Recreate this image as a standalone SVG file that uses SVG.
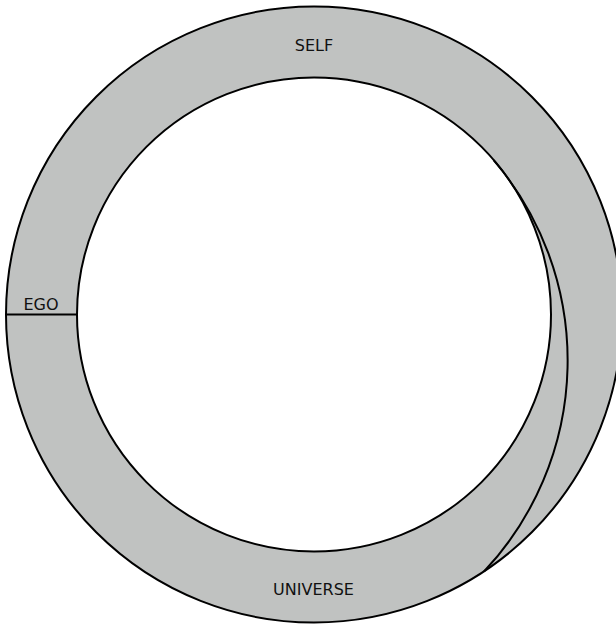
<svg xmlns="http://www.w3.org/2000/svg" width="616" height="625" viewBox="0 0 616 625">
<style>
.ln{stroke:#000;stroke-width:2;}
.lbl{font-family:"DejaVu Sans","Liberation Sans",sans-serif;font-size:16px;fill:#111;text-anchor:middle;}
</style>
<rect width="616" height="625" fill="#fff"/>
<g id="self-ring">
<circle cx="314" cy="314.5" r="308" fill="#c0c2c1" class="ln"/>
<circle cx="314" cy="314.5" r="237" fill="#fff" class="ln"/>
</g>
<g id="connectors">
<path d="M493.6,160.2 A308,308 0 0 1 484,571.5" fill="none" class="ln"/>
<line x1="6" y1="314.5" x2="77" y2="314.5" class="ln"/>
</g>
<g id="self"><text x="314" y="50.5" class="lbl">SELF</text></g>
<g id="ego"><text x="41" y="310" class="lbl">EGO</text></g>
<g id="universe"><text x="313.5" y="595" class="lbl">UNIVERSE</text></g>
</svg>
